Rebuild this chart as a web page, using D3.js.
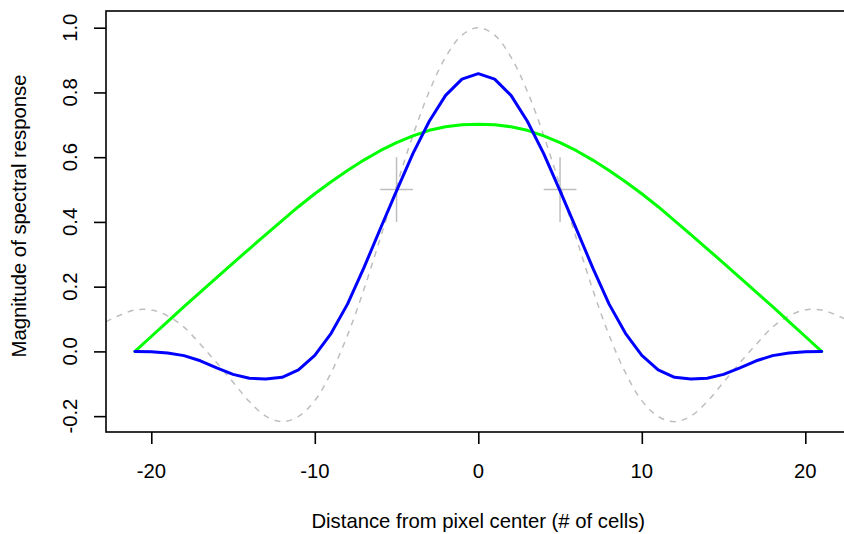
<!DOCTYPE html>
<html>
<head>
<meta charset="utf-8">
<script src="https://cdn.jsdelivr.net/npm/d3@7"></script>
<style>
  html, body { margin: 0; padding: 0; background: #fff; }
  svg { display: block; font-family: "Liberation Sans", Arial, sans-serif; }
</style>
</head>
<body>
<svg id="chart" width="844" height="534"></svg>
<script>
// ---- data ----
const distance = [-21,-20,-19,-18,-17,-16,-15,-14,-13,-12,-11,-10,-9,-8,-7,-6,-5,-4,-3,-2,-1,0,1,2,3,4,5,6,7,8,9,10,11,12,13,14,15,16,17,18,19,20,21];
const blueResponse = [0,-0.001,-0.005,-0.013,-0.029,-0.051,-0.071,-0.083,-0.085,-0.08,-0.057,-0.012,0.056,0.146,0.258,0.378,0.496,0.611,0.711,0.791,0.841,0.858,0.841,0.791,0.711,0.611,0.496,0.378,0.258,0.146,0.056,-0.012,-0.057,-0.08,-0.085,-0.083,-0.071,-0.051,-0.029,-0.013,-0.005,-0.001,0];
const greenResponse = [0,0.046,0.092,0.138,0.183,0.228,0.273,0.317,0.361,0.404,0.447,0.487,0.524,0.559,0.591,0.62,0.645,0.666,0.683,0.694,0.7,0.702,0.7,0.694,0.683,0.666,0.645,0.62,0.591,0.559,0.524,0.487,0.447,0.404,0.361,0.317,0.273,0.228,0.183,0.138,0.092,0.046,0];
const dashedX = [-24,-23,-22,-21,-20,-19,-18,-17,-16,-15,-14,-13,-12,-11,-10,-9,-8,-7,-6,-5,-4,-3,-2,-1,0,1,2,3,4,5,6,7,8,9,10,11,12,13,14,15,16,17,18,19,20,21,22,23,24];
const dashedResponse = [0.05,0.085,0.11,0.128,0.128,0.11,0.075,0.022,-0.035,-0.095,-0.155,-0.2,-0.217,-0.201,-0.152,-0.066,0.05,0.191,0.349,0.511,0.667,0.803,0.909,0.977,1.0,0.977,0.909,0.803,0.667,0.511,0.349,0.191,0.05,-0.066,-0.152,-0.201,-0.217,-0.2,-0.155,-0.095,-0.035,0.022,0.075,0.11,0.128,0.128,0.11,0.085,0.05];
const crossX = [-5, 5];
const crossY = [0.5, 0.5];
const crossHalfX = 1;
const crossHalfY = 0.1;
const xTicks = [-20, -10, 0, 10, 20];
const yTicks = [-0.2, 0.0, 0.2, 0.4, 0.6, 0.8, 1.0];
const xTitle = "Distance from pixel center (# of cells)";
const yTitle = "Magnitude of spectral response";

// ---- layout ----
const svg = d3.select("#chart");
const pLeft = 106, pTop = 11, pBottom = 432, pRight = 850.6;
const x = d3.scaleLinear().domain([-22.77, 22.77]).range([pLeft, pRight]);
const y = d3.scaleLinear().domain([-0.249, 1.0516]).range([pBottom, pTop]);
const FONT = 20.3;

svg.append("defs").append("clipPath").attr("id", "plotclip")
  .append("rect").attr("x", pLeft).attr("y", pTop).attr("width", pRight - pLeft).attr("height", pBottom - pTop);

const plot = svg.append("g").attr("clip-path", "url(#plotclip)");

// dashed reference curve
const dashedData = dashedX.map((d, i) => [d, dashedResponse[i]]);
plot.append("path")
  .datum(dashedData)
  .attr("fill", "none")
  .attr("stroke", "#bebebe")
  .attr("stroke-width", 1.5)
  .attr("stroke-dasharray", "6,6")
  .attr("d", d3.line().x(d => x(d[0])).y(d => y(d[1])).curve(d3.curveCatmullRom.alpha(0.5)));

// crosses
crossX.forEach((cx, i) => {
  const cy = crossY[i];
  plot.append("line").attr("x1", x(cx - crossHalfX)).attr("x2", x(cx + crossHalfX))
    .attr("y1", y(cy)).attr("y2", y(cy)).attr("stroke", "#bebebe").attr("stroke-width", 1.5);
  plot.append("line").attr("x1", x(cx)).attr("x2", x(cx))
    .attr("y1", y(cy - crossHalfY)).attr("y2", y(cy + crossHalfY)).attr("stroke", "#bebebe").attr("stroke-width", 1.5);
});

const lineGen = d3.line().x(d => x(d[0])).y(d => y(d[1]));

// green
plot.append("path")
  .datum(distance.map((d, i) => [d, greenResponse[i]]))
  .attr("fill", "none").attr("stroke", "#00ff00").attr("stroke-width", 3)
  .attr("stroke-linejoin", "round").attr("stroke-linecap", "round")
  .attr("d", lineGen);

// blue
plot.append("path")
  .datum(distance.map((d, i) => [d, blueResponse[i]]))
  .attr("fill", "none").attr("stroke", "#0000ff").attr("stroke-width", 3)
  .attr("stroke-linejoin", "round").attr("stroke-linecap", "round")
  .attr("d", lineGen);

// box
svg.append("rect").attr("x", pLeft).attr("y", pTop).attr("width", pRight - pLeft).attr("height", pBottom - pTop)
  .attr("fill", "none").attr("stroke", "#000").attr("stroke-width", 1.6);

// x axis (R style)
const xAxis = d3.axisBottom(x).tickValues(xTicks).tickSize(12).tickFormat("");
const gx = svg.append("g").attr("transform", `translate(0,${pBottom})`).call(xAxis);
gx.select(".domain").remove();
gx.selectAll(".tick line").attr("stroke", "#000").attr("stroke-width", 1.6);
gx.selectAll(".tick text").remove();
svg.selectAll(".xlab").data(xTicks).enter().append("text")
  .attr("x", d => x(d)).attr("y", 478)
  .attr("text-anchor", "middle").attr("font-size", FONT).attr("fill", "#000")
  .text(d => String(d));

// y axis
const yAxis = d3.axisLeft(y).tickValues(yTicks).tickSize(12).tickFormat("");
const gy = svg.append("g").attr("transform", `translate(${pLeft},0)`).call(yAxis);
gy.select(".domain").remove();
gy.selectAll(".tick line").attr("stroke", "#000").attr("stroke-width", 1.6);
gy.selectAll(".tick text").remove();
svg.selectAll(".ylab").data(yTicks).enter().append("text")
  .attr("transform", d => `translate(77,${y(d)}) rotate(-90)`)
  .attr("text-anchor", "middle").attr("font-size", FONT).attr("fill", "#000")
  .text(d => d.toFixed(1));

// titles
svg.append("text").attr("x", (pLeft + pRight) / 2).attr("y", 528)
  .attr("text-anchor", "middle").attr("font-size", FONT).attr("fill", "#000").text(xTitle);
svg.append("text").attr("transform", `translate(26,216) rotate(-90)`)
  .attr("text-anchor", "middle").attr("font-size", FONT).attr("fill", "#000").text(yTitle);
</script>
</body>
</html>
